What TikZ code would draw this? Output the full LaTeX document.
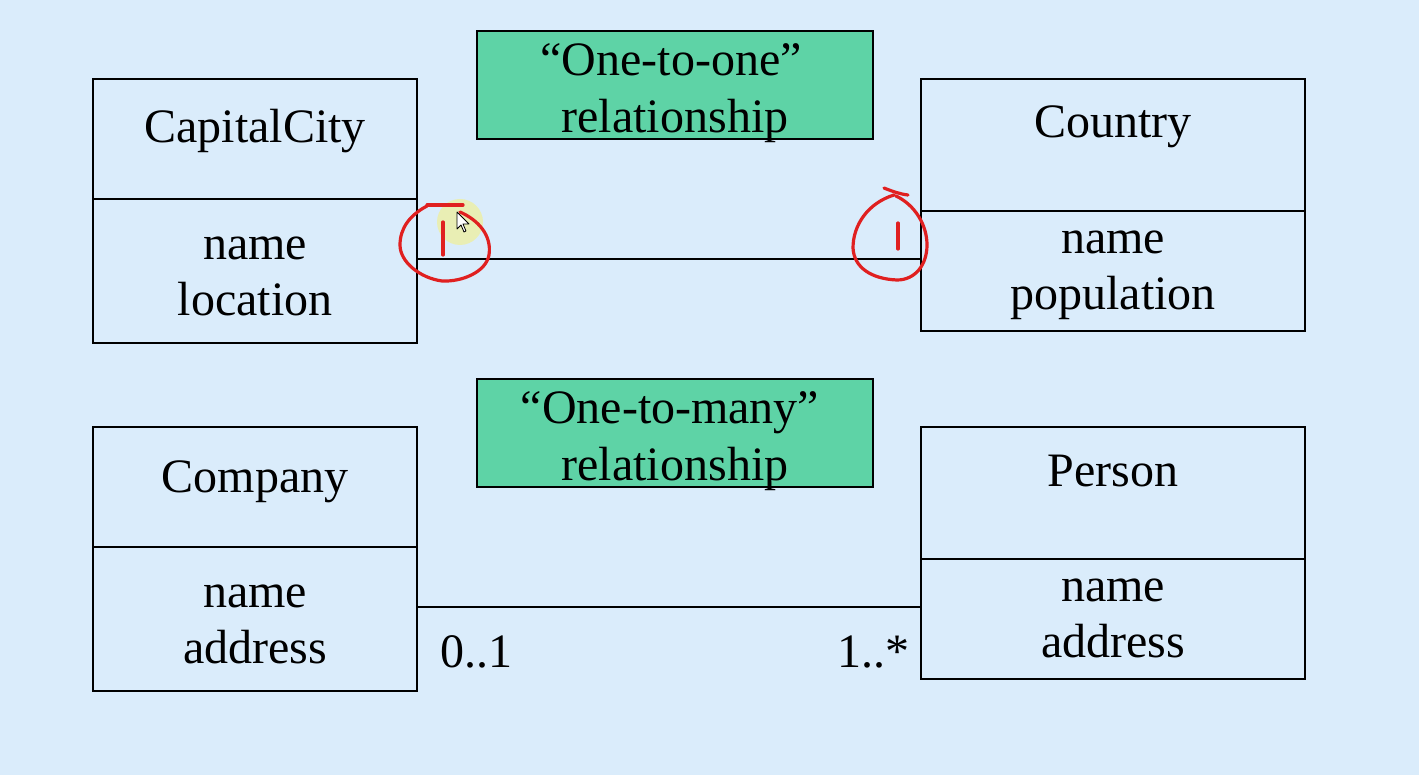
\documentclass[tikz,border=0pt]{standalone}
\usepackage{fontspec}
\setmainfont{Liberation Serif}
\definecolor{bg}{RGB}{218,236,251}
\definecolor{relgreen}{RGB}{94,211,166}
\definecolor{pen}{RGB}{224,32,32}
\definecolor{hilite}{RGB}{240,240,150}
\begin{document}
\begin{tikzpicture}[x=1pt,y=-1pt,
  comp/.style={draw=black,line width=1.8pt,fill=bg},
  relbox/.style={draw=black,line width=1.8pt,fill=relgreen},
  lbl/.style={anchor=base,inner sep=0pt,font=\fontsize{48}{56}\selectfont},
  assoc/.style={draw=black,line width=1.8pt},
  scribble/.style={draw=pen,line width=3.2pt,line cap=round,line join=round}]
\fill[bg] (0,0) rectangle (1419,775);
\useasboundingbox (0,0) rectangle (1419,775);

% CapitalCity
\draw[comp] (93,79) rectangle (417,199);
\draw[comp] (93,199) rectangle (417,343);
\node[lbl] (cct) at (255,143) {CapitalCity};
\node[lbl] (cca1) at (255,260) {name};
\node[lbl] (cca2) at (255,316) {location};
\coordinate (ccE) at (417,259);

% Country
\draw[comp] (921,79) rectangle (1305,211);
\draw[comp] (921,211) rectangle (1305,331);
\node[lbl] (cot) at (1113,138) {Country};
\node[lbl] (coa1) at (1113,254) {name};
\node[lbl] (coa2) at (1113,310) {population};
\coordinate (coW) at (921,259);

% Company
\draw[comp] (93,427) rectangle (417,547);
\draw[comp] (93,547) rectangle (417,691);
\node[lbl] (cpt) at (255,492) {Company};
\node[lbl] (cpa1) at (255,607) {name};
\node[lbl] (cpa2) at (255,663) {address};
\coordinate (cpE) at (417,607);

% Person
\draw[comp] (921,427) rectangle (1305,559);
\draw[comp] (921,559) rectangle (1305,679);
\node[lbl] (pt) at (1113,486) {Person};
\node[lbl] (pa1) at (1113,601) {name};
\node[lbl] (pa2) at (1113,657) {address};
\coordinate (pW) at (921,607);

% relationship boxes
\draw[relbox] (477,31) rectangle (873,139);
\node[lbl] (r1a) at (671,76) {“One-to-one”};
\node[lbl] (r1b) at (675,133) {relationship};
\draw[relbox] (477,379) rectangle (873,487);
\node[lbl] (r2a) at (670,424) {“One-to-many”};
\node[lbl] (r2b) at (675,480) {relationship};

% associations
\draw[assoc] (ccE) -- (coW);
\draw[assoc] (cpE) -- (pW);
\node[lbl] (m1) at (476,667) {0..1};
\node[lbl] (m2) at (873,667) {1..*};

% red annotations
\fill[hilite,opacity=0.7] (460,222) circle (23);
\draw[scribble] (427,205) -- (463,205);
\draw[scribble] (427,206) .. controls (410,215) and (400,228) .. (400,245)
  .. controls (400,262) and (420,278) .. (442,281)
  .. controls (462,282) and (486,272) .. (489,255)
  .. controls (492,235) and (478,220) .. (460,212);
\draw[scribble] (443,222) -- (443,255);
\draw[scribble] (884,188) .. controls (894,192) and (900,194) .. (908,195);
\draw[scribble] (894,195) .. controls (868,203) and (853,225) .. (853,248)
  .. controls (854,268) and (872,279) .. (897,280)
  .. controls (915,280) and (927,265) .. (927,245)
  .. controls (927,225) and (915,205) .. (896,196);
\draw[scribble] (898,223) -- (898,249);
% cursor
\draw[black,fill=white,line width=0.8pt,line join=round]
  (457,212) -- (457,229) -- (461,225) -- (464,232) -- (466,231) -- (463,224) -- (469,224) -- cycle;
\end{tikzpicture}
\end{document}
